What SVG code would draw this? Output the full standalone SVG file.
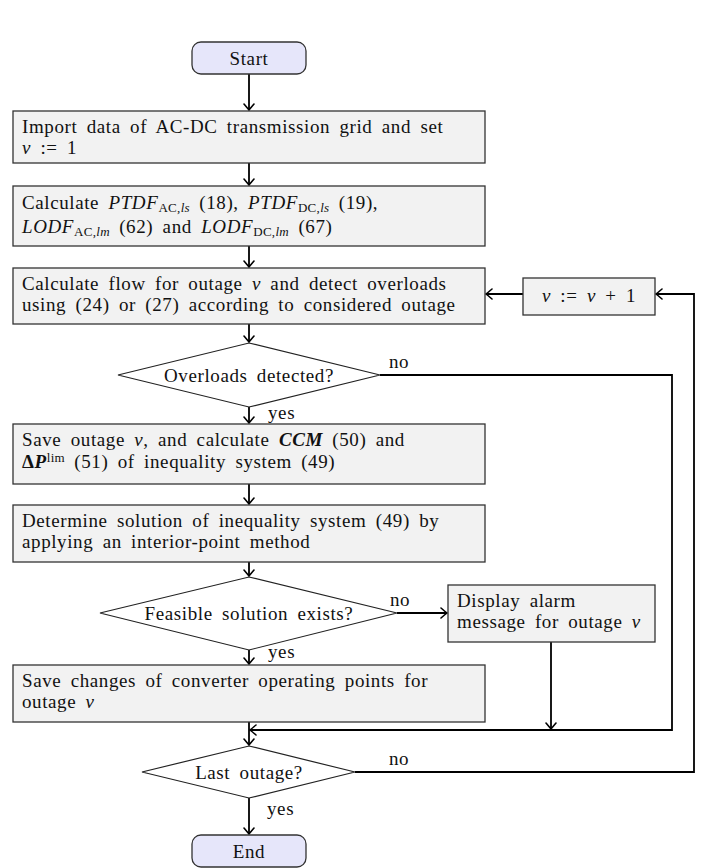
<svg xmlns="http://www.w3.org/2000/svg" width="710" height="868" viewBox="0 0 710 868">
<defs>
<marker id="arr" viewBox="-7 -6 8 12" markerWidth="8" markerHeight="12" refX="0" refY="0" orient="auto" markerUnits="userSpaceOnUse">
<path d="M -6,-5 Q -1.5,-1.2 0,0 Q -1.5,1.2 -6,5" fill="none" stroke="#000" stroke-width="1.6" stroke-linecap="round"/>
</marker>
</defs>
<style>
text{font-family:"Liberation Serif","Times New Roman",serif;font-size:19px;fill:#111;letter-spacing:0.6px;word-spacing:4px}
.box{fill:#f2f2f2;stroke:#333;stroke-width:1.3}
.term{fill:#e6e6fa;stroke:#333;stroke-width:1.3}
.dia{fill:#fff;stroke:#222;stroke-width:1.2}
.ca{fill:none;stroke:#000;stroke-width:1.8;marker-end:url(#arr)}
.i{font-style:italic}
.bi{font-style:italic;font-weight:bold}
.s{font-size:13px;letter-spacing:0.3px}
.lbl{font-size:19px;word-spacing:0}
</style>
<rect width="710" height="868" fill="#fff"/>

<g id="connectors">
<line class="ca" x1="249" y1="74" x2="249" y2="110"/>
<line class="ca" x1="249" y1="163" x2="249" y2="185"/>
<line class="ca" x1="249" y1="246" x2="249" y2="267"/>
<line class="ca" x1="249" y1="324" x2="249" y2="342"/>
<line class="ca" x1="249" y1="407" x2="249" y2="423"/>
<line class="ca" x1="249" y1="484" x2="249" y2="504"/>
<line class="ca" x1="249" y1="562" x2="249" y2="576"/>
<line class="ca" x1="249" y1="650" x2="249" y2="664"/>
<line class="ca" x1="249" y1="722" x2="249" y2="745"/>
<line class="ca" x1="249" y1="798" x2="249" y2="834"/>
<line class="ca" x1="397" y1="613" x2="447" y2="613"/>
<line class="ca" x1="551" y1="642" x2="551" y2="729"/>
<polyline class="ca" points="380,375 672,375 672,730 250,730"/>
<polyline class="ca" points="355,772 694,772 694,294 656,294"/>
<line class="ca" x1="523" y1="294" x2="486" y2="294"/>
<text class="lbl" x="268" y="419">yes</text>
<text class="lbl" x="268" y="658">yes</text>
<text class="lbl" x="267" y="815">yes</text>
<text class="lbl" x="389" y="368">no</text>
<text class="lbl" x="390" y="606">no</text>
<text class="lbl" x="389" y="765">no</text>
</g>

<g id="start">
<rect class="term" x="192" y="42" width="114" height="32" rx="9"/>
<text x="249" y="65" text-anchor="middle">Start</text>
</g>

<g id="import">
<rect class="box" x="13" y="111" width="472" height="52"/>
<text x="22" y="133">Import data of AC-DC transmission grid and set<tspan x="22" dy="21"><tspan class="i">ν</tspan> := 1</tspan></text>
</g>

<g id="calc-factors">
<rect class="box" x="13" y="186" width="472" height="60"/>
<text x="22" y="209">Calculate <tspan class="i">PTDF</tspan><tspan class="s" dy="3">AC,</tspan><tspan class="s i">ls</tspan><tspan dy="-3"> (18), </tspan><tspan class="i">PTDF</tspan><tspan class="s" dy="3">DC,</tspan><tspan class="s i">ls</tspan><tspan dy="-3"> (19),</tspan><tspan x="22" dy="24" class="i">LODF</tspan><tspan class="s" dy="3">AC,</tspan><tspan class="s i">lm</tspan><tspan dy="-3"> (62) and </tspan><tspan class="i">LODF</tspan><tspan class="s" dy="3">DC,</tspan><tspan class="s i">lm</tspan><tspan dy="-3"> (67)</tspan></text>
</g>

<g id="calc-flow">
<rect class="box" x="13" y="268" width="472" height="56"/>
<text x="22" y="290">Calculate flow for outage <tspan class="i">ν</tspan> and detect overloads<tspan x="22" dy="21">using (24) or (27) according to considered outage</tspan></text>
</g>

<g id="increment">
<rect class="box" x="523" y="278" width="132" height="37"/>
<text x="589" y="302" text-anchor="middle"><tspan class="i">ν</tspan> := <tspan class="i">ν</tspan> + 1</text>
</g>

<g id="overloads">
<polygon class="dia" points="249,343 380,375 249,407 118,375"/>
<text x="249" y="382" text-anchor="middle">Overloads detected?</text>
</g>

<g id="save-outage">
<rect class="box" x="13" y="424" width="472" height="60"/>
<text x="22" y="446">Save outage <tspan class="i">ν</tspan>, and calculate <tspan class="bi">CCM</tspan> (50) and<tspan x="22" dy="22" font-weight="bold">Δ</tspan><tspan class="bi">P</tspan><tspan class="s" dy="-6">lim</tspan><tspan dy="6"> (51) of inequality system (49)</tspan></text>
</g>

<g id="determine">
<rect class="box" x="13" y="505" width="472" height="57"/>
<text x="22" y="527">Determine solution of inequality system (49) by<tspan x="22" dy="21">applying an interior-point method</tspan></text>
</g>

<g id="feasible">
<polygon class="dia" points="249,577 397,613 249,650 100,613"/>
<text x="249" y="620" text-anchor="middle">Feasible solution exists?</text>
</g>

<g id="alarm">
<rect class="box" x="448" y="585" width="207" height="57"/>
<text x="457" y="607">Display alarm<tspan x="457" dy="21">message for outage <tspan class="i">ν</tspan></tspan></text>
</g>

<g id="save-changes">
<rect class="box" x="13" y="665" width="472" height="57"/>
<text x="22" y="687">Save changes of converter operating points for<tspan x="22" dy="21">outage <tspan class="i">ν</tspan></tspan></text>
</g>

<g id="last">
<polygon class="dia" points="249,746 355,772 249,798 142,772"/>
<text x="249" y="779" text-anchor="middle">Last outage?</text>
</g>

<g id="end">
<rect class="term" x="192" y="835" width="114" height="32" rx="9"/>
<text x="249" y="858" text-anchor="middle">End</text>
</g>
</svg>
